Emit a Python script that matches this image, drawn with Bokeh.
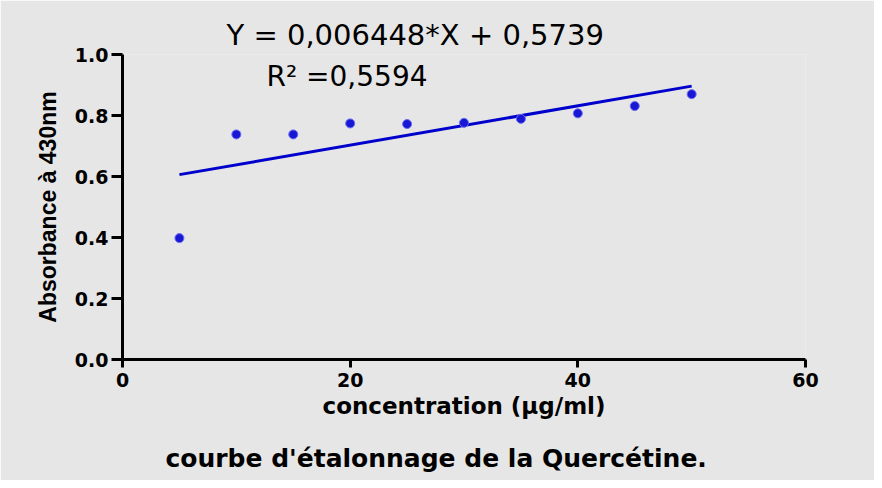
from bokeh.plotting import figure
from bokeh.models import Range1d, FixedTicker, Label, Title, NumeralTickFormatter
from bokeh.embed import file_html
from bokeh.resources import INLINE

# ---- data ----
concentration = [5, 10, 15, 20, 25, 30, 35, 40, 45, 50]
absorbance = [0.398, 0.738, 0.738, 0.774, 0.772, 0.776, 0.789, 0.807, 0.831, 0.870]
fit_x = [5, 50]
fit_y = [0.6061, 0.8963]
x_ticks = [0, 20, 40, 60]
x_tick_labels = ["0", "20", "40", "60"]
y_ticks = [0.0, 0.2, 0.4, 0.6, 0.8, 1.0]
y_tick_labels = ["0.0", "0.2", "0.4", "0.6", "0.8", "1.0"]
equation_text = "Y = 0,006448*X + 0,5739"
r2_text = "R\u00b2 =0,5594"
x_label = "concentration (\u00b5g/ml)"
y_label = "Absorbance \u00e0 430nm"
title_text = "courbe d'\u00e9talonnage de la Querc\u00e9tine."

BG = "#e6e6e6"
BLUE = "#0000cc"

p = figure(width=874, height=480,
           x_range=Range1d(0, 60), y_range=Range1d(0, 1.0),
           output_backend="svg", toolbar_location=None,
           min_border_left=122, min_border_right=69,
           min_border_top=54, min_border_bottom=121,
           background_fill_color=BG, border_fill_color=BG,
           outline_line_color=None)
p.grid.visible = False

for ax in (p.xaxis[0], p.yaxis[0]):
    ax.axis_line_width = 3
    ax.axis_line_color = "black"
    ax.major_tick_line_width = 3
    ax.major_tick_line_color = "black"
    ax.major_tick_in = 0
    ax.minor_tick_line_color = None
    ax.major_label_text_font = "DejaVu Sans"
    ax.major_label_text_font_style = "bold"
    ax.major_label_text_font_size = "19px"
    ax.major_label_text_color = "black"
    ax.axis_label_text_font_style = "bold"
    ax.axis_label_text_color = "black"

xa = p.xaxis[0]
xa.ticker = FixedTicker(ticks=x_ticks)
xa.formatter = NumeralTickFormatter(format="0")
xa.major_label_overrides = dict(zip(x_ticks, x_tick_labels))
xa.bounds = (x_ticks[0], x_ticks[-1])
xa.major_tick_out = 8
xa.major_label_standoff = 5
xa.axis_label = x_label
xa.axis_label_text_font = "DejaVu Sans"
xa.axis_label_text_font_size = "23px"
xa.axis_label_standoff = 3

ya = p.yaxis[0]
ya.ticker = FixedTicker(ticks=y_ticks)
ya.formatter = NumeralTickFormatter(format="0.0")
ya.major_label_overrides = dict(zip(y_ticks, y_tick_labels))
ya.bounds = (y_ticks[0], y_ticks[-1])
ya.major_tick_out = 11
ya.major_label_standoff = 3
ya.axis_label = y_label
ya.axis_label_text_font = "Liberation Sans"
ya.axis_label_text_font_size = "23px"
ya.axis_label_standoff = 11

p.line(fit_x, fit_y, line_width=3, line_color=BLUE)
p.scatter(concentration, absorbance, size=9, fill_color="#1818d4",
          line_color="#6a6af2", line_width=1)

# regression equation above the frame
p.add_layout(Title(text=equation_text, align="left", offset=104,
                   text_font="DejaVu Sans", text_font_style="normal",
                   text_font_size="29px", text_color="black",
                   standoff=6), "above")

# R^2 inside the frame (screen px from frame bottom-left)
p.add_layout(Label(x=224.5, y=283, x_units="screen", y_units="screen",
                   text=r2_text, text_align="center",
                   text_baseline="alphabetic", text_font="DejaVu Sans",
                   text_font_size="28px", text_color="black"))

# chart caption below the x-axis label
p.add_layout(Title(text="\n" + title_text, align="left", offset=43,
                   text_font="DejaVu Sans", text_font_style="bold",
                   text_font_size="25px", text_color="black",
                   text_line_height=0.72, standoff=0), "below")

open("out.html", "w").write(file_html(p, INLINE))
